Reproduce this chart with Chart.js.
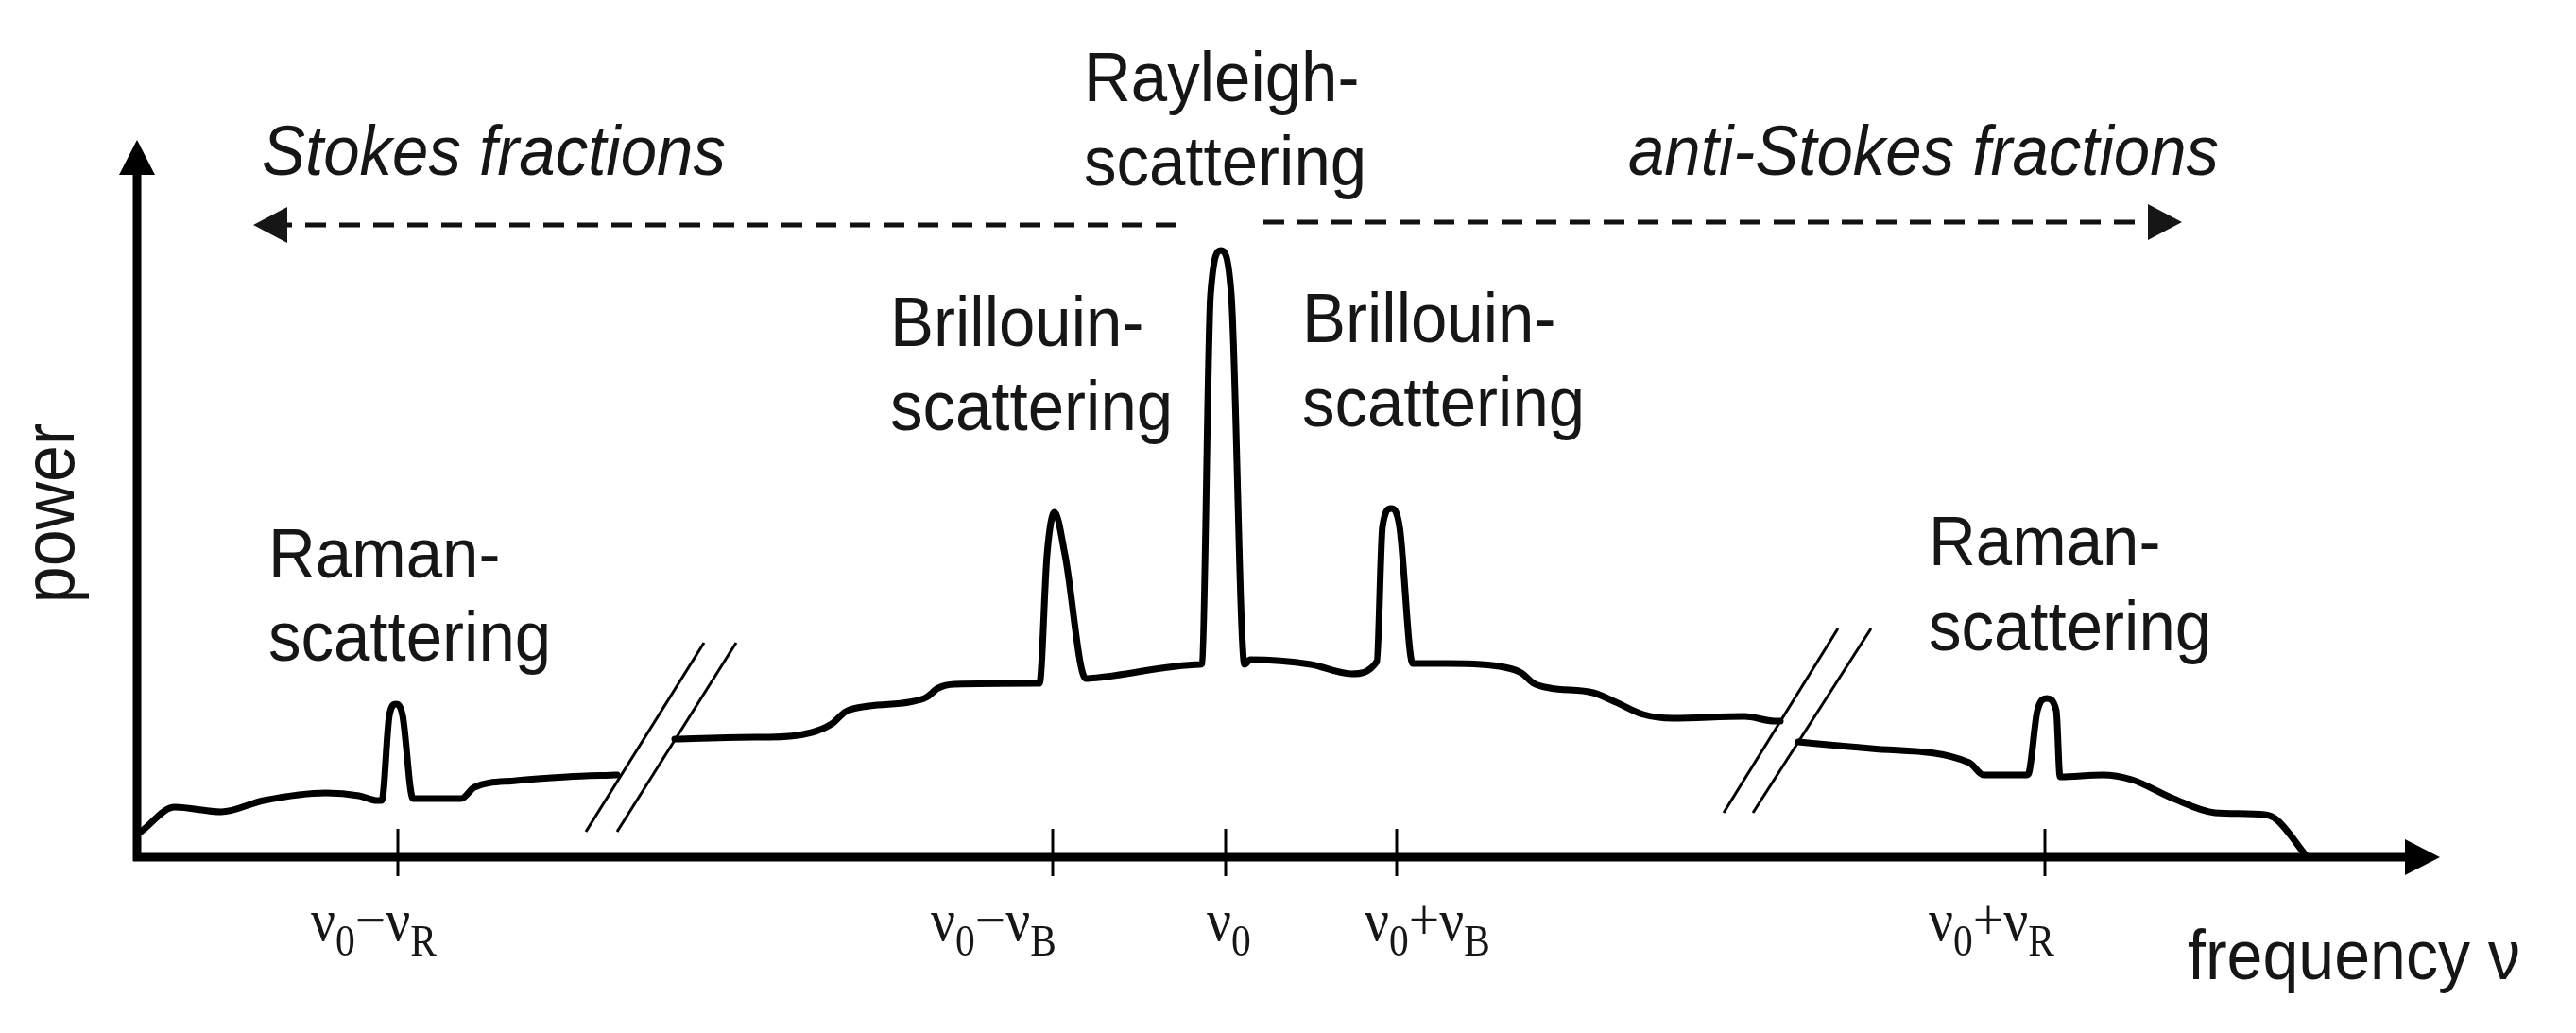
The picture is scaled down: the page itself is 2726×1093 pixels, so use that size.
<!DOCTYPE html>
<html><head><meta charset="utf-8">
<script src="https://cdn.jsdelivr.net/npm/chart.js@4.4.1/dist/chart.umd.min.js"></script>
<style>html,body{margin:0;padding:0;background:#fff;overflow:hidden}#wrap{width:2726px;height:1093px}</style>
</head><body><div id="wrap"><canvas id="c" width="2726" height="1093"></canvas></div>
<script>
// Frequency in arbitrary units (nu0 = 0), power in arbitrary units.
// Stokes side (left of the first axis break)
const stokesFreq  = [-11.48,-11.12,-10.63,-10.18,-9.52,-9.17,-8.98,-8.93,-8.85,-8.78,-8.71,-8.60,-8.09,-7.95,-7.51,-6.97,-6.44];
const stokesPower = [0.27,0.53,0.48,0.60,0.68,0.65,0.60,0.60,1.50,1.62,1.50,0.62,0.62,0.74,0.81,0.85,0.87];
// Central part: Brillouin - Rayleigh - Brillouin
const centerFreq  = [-5.83,-4.97,-4.83,-4.38,-4.17,-4.02,-3.77,-3.35,-3.17,-3.04,-2.87,-2.01,
  -1.97,-1.89,-1.81,-1.70,-1.48,-1.35,-0.27,
  -0.25,-0.16,-0.05,0.06,0.20,0.26,0.90,1.33,1.60,
  1.66,1.75,1.84,1.98,2.36,2.95,3.13,3.26,3.43,3.89,4.13,4.42,4.73,5.49,5.81,5.87];
const centerPower = [1.25,1.27,1.27,1.32,1.41,1.54,1.60,1.64,1.69,1.79,1.83,1.84,
  1.84,3.20,3.65,3.20,1.89,1.90,2.04,
  2.05,5.95,6.42,5.95,2.04,2.09,2.04,1.94,2.07,
  3.50,3.69,3.50,2.05,2.05,2.01,1.95,1.84,1.79,1.74,1.64,1.51,1.47,1.49,1.44,1.44];
// anti-Stokes side (right of the second axis break)
const antiFreq  = [6.06,6.60,6.83,7.87,8.02,8.48,8.50,8.59,8.69,8.79,8.83,9.28,9.59,10.03,10.47,11.00,11.13,11.43];
const antiPower = [1.22,1.17,1.15,1.00,0.87,0.87,0.89,1.55,1.68,1.55,0.85,0.87,0.82,0.62,0.47,0.45,0.39,0.02];
// axis-break marks (pairs of slashes)
const break1aFreq = [-6.77,-5.52], break1aPower = [0.27,2.27];
const break1bFreq = [-6.44,-5.18], break1bPower = [0.27,2.27];
const break2aFreq = [5.27,6.48],  break2aPower = [0.47,2.42];
const break2bFreq = [5.58,6.83],  break2bPower = [0.47,2.42];
// x-axis ticks and labels
const tickFreqs  = [-8.76,-1.83,0,1.81,8.67];
const tickLabels = ["ν_{0}−ν_{R}","ν_{0}−ν_{B}","ν_{0}","ν_{0}+ν_{B}","ν_{0}+ν_{R}"];
const peakLabels = [["Raman-","scattering"],["Brillouin-","scattering"],["Rayleigh-","scattering"],["Brillouin-","scattering"],["Raman-","scattering"]];
const xTitle = "frequency ν", yTitle = "power";
const stokesText = "Stokes fractions", antiText = "anti-Stokes fractions";

const pts = (xs, ys) => xs.map((x, i) => ({x, y: ys[i]}));
const curveStyle = {showLine:true, borderColor:'#000', borderWidth:7, pointRadius:0, cubicInterpolationMode:'monotone', borderJoinStyle:'round', borderCapStyle:'round', fill:false};
const slashStyle = {showLine:true, borderColor:'#000', borderWidth:3, pointRadius:0, tension:0, fill:false};

const SANS = '"Liberation Sans", Arial, sans-serif';
const SERIF = '"Liberation Serif", "Times New Roman", serif';
const SX = 0.92;

function txt(ctx, s, x, y, font, sx, align) {
  ctx.save(); ctx.translate(x, y); ctx.scale(sx, 1);
  ctx.font = font; ctx.textAlign = align || 'left'; ctx.textBaseline = 'alphabetic';
  ctx.fillText(s, 0, 0); ctx.restore();
}

const diagram = {
  id: 'diagram',
  beforeDatasetsDraw(chart) {
    const ctx = chart.ctx, xs = chart.scales.x, ys = chart.scales.y;
    const xl = xs.getPixelForValue(xs.min), xr = xs.getPixelForValue(xs.max);
    const yb = ys.getPixelForValue(ys.min), yt = ys.getPixelForValue(ys.max);
    ctx.save();
    ctx.strokeStyle = '#000'; ctx.fillStyle = '#000';
    ctx.lineWidth = 9; ctx.lineCap = 'butt';
    // x axis
    ctx.beginPath(); ctx.moveTo(xl - 4, yb); ctx.lineTo(xr - 30, yb); ctx.stroke();
    ctx.beginPath(); ctx.moveTo(xr, yb); ctx.lineTo(xr - 37, yb - 19); ctx.lineTo(xr - 37, yb + 19); ctx.closePath(); ctx.fill();
    // y axis
    ctx.beginPath(); ctx.moveTo(xl, yb + 4); ctx.lineTo(xl, yt + 30); ctx.stroke();
    ctx.beginPath(); ctx.moveTo(xl, yt); ctx.lineTo(xl - 19, yt + 37); ctx.lineTo(xl + 19, yt + 37); ctx.closePath(); ctx.fill();
    // tick marks crossing the axis
    ctx.lineWidth = 3;
    tickFreqs.forEach(f => {
      const px = xs.getPixelForValue(f);
      ctx.beginPath(); ctx.moveTo(px, ys.getPixelForValue(0.30)); ctx.lineTo(px, ys.getPixelForValue(-0.20)); ctx.stroke();
    });
    ctx.restore();
  },
  afterDatasetsDraw(chart) {
    const ctx = chart.ctx, xs = chart.scales.x, ys = chart.scales.y;
    const X = v => xs.getPixelForValue(v), Y = v => ys.getPixelForValue(v);
    ctx.save();
    ctx.fillStyle = '#161616'; ctx.strokeStyle = '#111';
    // dashed direction arrows
    const arrows = [{from:-0.52, to:-10.29, y:6.69}, {from:0.40, to:10.12, y:6.72}];
    arrows.forEach(a => {
      const x1 = X(a.from), x2 = X(a.to), y = Y(a.y), dir = Math.sign(x2 - x1);
      ctx.save(); ctx.lineWidth = 5; ctx.setLineDash([22, 14]);
      ctx.beginPath(); ctx.moveTo(x1, y); ctx.lineTo(x2 - dir * 34, y); ctx.stroke(); ctx.restore();
      ctx.beginPath(); ctx.moveTo(x2, y); ctx.lineTo(x2 - dir * 36, y - 19); ctx.lineTo(x2 - dir * 36, y + 19); ctx.closePath(); ctx.fill();
    });
    const F = '75px ' + SANS, FI = 'italic 75px ' + SANS;
    txt(ctx, stokesText, X(-10.20), Y(7.22), FI, SX);
    txt(ctx, antiText, X(4.26), Y(7.22), FI, SX);
    // peak labels
    const anchors = [[-10.13, 2.96, 2.08], [-3.55, 5.41, 4.52], [-1.50, 8.00, 7.11], [0.81, 5.45, 4.56], [7.44, 3.09, 2.19]];
    peakLabels.forEach((lab, i) => {
      const a = anchors[i];
      txt(ctx, lab[0], X(a[0]), Y(a[1]), F, SX);
      txt(ctx, lab[1], X(a[0]), Y(a[2]), F, SX);
    });
    // axis titles
    txt(ctx, xTitle, X(10.18), Y(-1.29), '74px ' + SANS, SX);
    ctx.save(); ctx.translate(X(-12.19), Y(3.64)); ctx.rotate(-Math.PI / 2); ctx.scale(SX, 1);
    ctx.font = '76px ' + SANS; ctx.textAlign = 'center'; ctx.fillText(yTitle, 0, 0); ctx.restore();
    // tick labels with subscripts
    const starts = [-9.68, -3.12, -0.20, 1.47, 7.44];
    tickLabels.forEach((lab, i) => {
      let x = X(starts[i]); const yb = Y(-0.88);
      const parts = lab.split(/(_\{[^}]*\})/).filter(s => s.length);
      parts.forEach(p => {
        const sub = p.startsWith('_{');
        const s = sub ? p.slice(2, -1) : p;
        ctx.font = (sub ? '46px ' : '64px ') + SERIF;
        ctx.save(); ctx.translate(x, yb + (sub ? 16 : 0)); ctx.scale(0.9, 1);
        ctx.fillText(s, 0, 0); ctx.restore();
        x += ctx.measureText(s).width * 0.9;
      });
    });
    ctx.restore();
  }
};

new Chart(document.getElementById('c'), {
  type: 'scatter',
  data: { datasets: [
    Object.assign({data: pts(stokesFreq, stokesPower)}, curveStyle),
    Object.assign({data: pts(centerFreq, centerPower)}, curveStyle),
    Object.assign({data: pts(antiFreq, antiPower)}, curveStyle),
    Object.assign({data: pts(break1aFreq, break1aPower)}, slashStyle),
    Object.assign({data: pts(break1bFreq, break1bPower)}, slashStyle),
    Object.assign({data: pts(break2aFreq, break2aPower)}, slashStyle),
    Object.assign({data: pts(break2bFreq, break2bPower)}, slashStyle)
  ]},
  options: {
    responsive: false, animation: false, devicePixelRatio: 1, events: [],
    layout: {padding: {left: 145, right: 144, top: 148, bottom: 186}},
    scales: {
      x: {type: 'linear', display: false, min: -11.52, max: 12.85},
      y: {type: 'linear', display: false, min: 0, max: 7.59}
    },
    plugins: {legend: {display: false}, tooltip: {enabled: false}, title: {display: false}}
  },
  plugins: [diagram]
});
</script></body></html>
